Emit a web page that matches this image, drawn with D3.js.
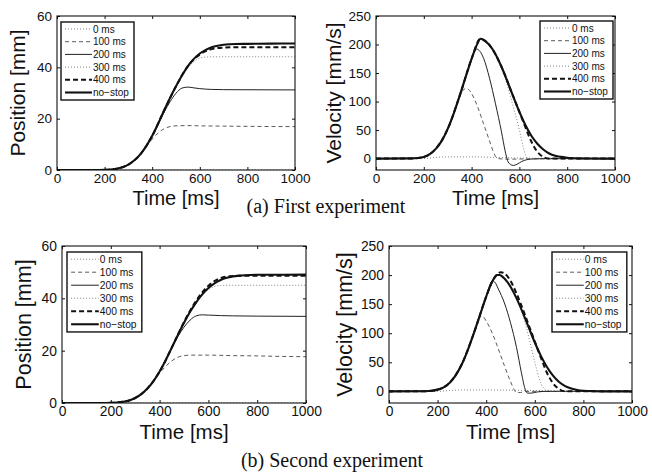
<!DOCTYPE html>
<html>
<head>
<meta charset="utf-8">
<script src="https://cdn.jsdelivr.net/npm/d3@7"></script>
<style>
    body { margin: 0; background: #fff; }
    svg { display: block; }
    .tick text, .lab { font-family: "Liberation Sans", Arial, sans-serif; fill: #111; }
    .caption { font-family: "Liberation Serif", "Times New Roman", serif; font-size: 20px; fill: #111; }
</style>
</head>
<body>
<script>
(function(){
    // legend labels, one per series (same order as the data arrays below)
    var seriesLabels = ["0 ms", "100 ms", "200 ms", "300 ms", "400 ms", "no\u2212stop"];

    var timeTicks = [0, 200, 400, 600, 800, 1000];
    var posTicks = [0, 20, 40, 60];
    var velTicks = [0, 50, 100, 150, 200, 250];

    // ---- (a) first experiment: position [mm], pairs of [time ms, value]
    var pos1_0 = [[0,0],[1000,0]];
    var pos1_100 = [[0,0],[150,0],[200,0.07],[250,0.5],[300,2.1],[350,6.1],[375,9.2],[400,12.0],[425,14.4],[450,16.1],[475,16.9],[500,17.2],[550,17.3],[600,17.2],[700,17.1],[800,17.0],[1000,16.9]];
    var pos1_200 = [[0,0],[150,0],[200,0.07],[250,0.5],[300,2.1],[350,6.1],[400,13.3],[425,17.9],[450,22.5],[475,26.6],[500,29.9],[525,31.9],[550,32.3],[575,32.0],[600,31.7],[650,31.4],[700,31.3],[1000,31.2]];
    var pos1_300 = [[0,0],[150,0],[200,0.07],[250,0.5],[300,2.1],[350,6.1],[400,13.3],[450,23.2],[500,32.6],[525,36.6],[550,39.9],[575,42.2],[600,43.6],[625,44.0],[650,44.1],[1000,44.1]];
    var pos1_400 = [[0,0],[150,0],[200,0.07],[250,0.5],[300,2.1],[350,6.1],[400,13.3],[450,23.2],[500,32.6],[550,40.5],[600,45.0],[625,46.3],[650,47.1],[675,47.5],[700,47.7],[750,47.8],[1000,47.8]];
    var pos1_ns = [[0,0],[150,0],[175,0.02],[200,0.07],[225,0.2],[250,0.5],[275,1.1],[300,2.1],[325,3.8],[350,6.1],[375,9.3],[400,13.3],[425,18.1],[450,23.2],[475,28.1],[500,32.6],[525,36.8],[550,40.5],[575,43.3],[600,45.4],[625,46.8],[650,47.8],[675,48.4],[700,48.8],[725,49.0],[750,49.1],[800,49.15],[900,49.25],[1000,49.3]];

    // ---- (a) first experiment: velocity [mm/s]
    var vel1_0 = [[0,0],[200,0],[250,2],[300,3],[400,3],[500,2],[600,1],[700,0.5],[800,0],[1000,0]];
    var vel1_100 = [[0,0],[150,0.3],[200,3],[250,17],[300,52],[325,79],[340,97],[355,113],[365,120],[375,123],[388,121],[400,114],[425,91],[450,61],[475,31],[490,13],[500,4],[510,0],[550,-1],[650,-0.5],[1000,-0.3]];
    var vel1_200 = [[0,0],[150,0.3],[200,3],[250,17],[300,52],[350,110],[400,175],[413,188],[422,192],[435,188],[450,176],[475,141],[500,96],[525,47],[540,14],[550,-3],[562,-10],[575,-12],[590,-10],[610,-5],[630,-2],[660,-0.5],[700,0],[1000,0]];
    var vel1_300 = [[0,0],[150,0.3],[200,3],[250,17],[300,52],[350,110],[400,175],[437,210],[475,199],[500,183],[525,161],[550,128],[575,90],[600,50],[615,22],[625,7],[635,0],[660,-1],[720,-0.5],[1000,0]];
    var vel1_400 = [[0,0],[150,0.3],[200,3],[250,17],[300,52],[350,110],[400,175],[437,210],[475,199],[525,161],[575,108],[600,82],[625,55],[650,30],[675,12],[700,3],[725,0],[1000,0]];
    var vel1_ns = [[0,0],[150,0.3],[175,1],[200,3],[225,8],[250,17],[275,31],[300,52],[325,79],[350,110],[375,143],[400,175],[425,202],[437,210],[450,208],[475,199],[500,183],[525,161],[550,135],[575,108],[600,82],[625,59],[650,40],[675,26],[700,16],[725,9],[750,5],[775,3],[800,1.5],[850,0.4],[900,0.1],[1000,0]];

    // ---- (b) second experiment: position [mm]
    var pos2_0 = [[0,0],[1000,0]];
    var pos2_100 = [[0,0],[150,0],[200,0.07],[250,0.46],[300,1.91],[350,5.52],[375,8.39],[400,11.4],[425,14.0],[450,16.1],[475,17.5],[500,18.1],[525,18.3],[600,18.3],[700,18.1],[800,18.0],[900,17.8],[1000,17.7]];
    var pos2_200 = [[0,0],[150,0],[200,0.07],[250,0.46],[300,1.91],[350,5.52],[400,12.03],[425,16.35],[450,21.1],[475,25.4],[500,29.0],[525,31.7],[550,33.3],[575,33.7],[600,33.6],[650,33.4],[700,33.3],[800,33.2],[1000,33.1]];
    var pos2_300 = [[0,0],[150,0],[200,0.07],[250,0.46],[300,1.91],[350,5.52],[400,12.03],[450,21.17],[500,30.65],[525,34.84],[550,38.4],[575,41.3],[600,43.3],[625,44.5],[650,44.9],[700,45.0],[1000,45.0]];
    var pos2_400 = [[0,0],[150,0],[200,0.07],[250,0.46],[300,1.91],[350,5.52],[400,12.03],[450,21.17],[475,26.1],[500,30.9],[525,35.3],[550,39.1],[575,42.3],[600,44.8],[625,46.6],[650,47.7],[675,48.3],[700,48.5],[750,48.6],[1000,48.6]];
    var pos2_ns = [[0,0],[150,0],[175,0.02],[200,0.07],[225,0.19],[250,0.46],[275,0.99],[300,1.91],[325,3.39],[350,5.52],[375,8.39],[400,12.03],[425,16.37],[450,21.17],[475,26.04],[500,30.65],[525,34.84],[550,38.49],[575,41.53],[600,43.92],[625,45.71],[650,46.98],[675,47.83],[700,48.36],[725,48.67],[750,48.85],[800,48.99],[1000,49.05]];

    // ---- (b) second experiment: velocity [mm/s]
    var vel2_0 = [[0,0],[200,0],[250,1.5],[300,2.5],[400,2.5],[500,2],[600,1.5],[700,0.5],[800,0],[1000,0]];
    var vel2_100 = [[0,0],[150,0.3],[200,3],[250,15],[300,47],[325,72],[350,101],[365,120],[375,128],[385,129],[400,121],[425,100],[450,73],[475,44],[500,17],[515,3],[525,-2],[540,-2],[560,0],[1000,-0.3]];
    var vel2_200 = [[0,0],[150,0.3],[200,3],[250,15],[300,47],[350,101],[375,132],[400,163],[415,183],[425,190],[435,188],[450,176],[475,152],[500,118],[525,75],[545,32],[560,4],[570,-3],[585,-3],[610,-1],[650,0],[1000,0]];
    var vel2_300 = [[0,0],[150,0.3],[200,3],[250,15],[300,47],[350,101],[400,163],[445,200],[475,194],[500,180],[525,160],[540,146],[560,118],[580,85],[600,50],[620,20],[635,6],[645,2],[670,1],[720,0.5],[800,0],[1000,0]];
    var vel2_400 = [[0,0],[150,0.3],[200,3],[250,15],[300,47],[350,101],[400,163],[425,189],[445,201],[460,205],[475,203],[500,190],[525,168],[550,142],[575,114],[600,86],[625,58],[650,32],[675,14],[700,4],[725,0],[1000,0]];
    var vel2_ns = [[0,0],[150,0.3],[175,1],[200,3],[225,7],[250,15],[275,28],[300,47],[325,72],[350,101],[375,132],[400,163],[425,189],[445,200],[455,200],[475,194],[500,180],[525,160],[550,136],[575,110],[600,84],[625,61],[650,42],[675,27],[700,16],[725,9],[750,5],[775,2.5],[800,1.2],[850,0.3],[900,0],[1000,0]];

    // line style per series
    var styles = [
        {stroke: "#808080", width: 1,   dash: "1,2"},
        {stroke: "#5a5a5a", width: 1,   dash: "4,3"},
        {stroke: "#222",    width: 1,   dash: null},
        {stroke: "#808080", width: 1,   dash: "1,2"},
        {stroke: "#111",    width: 2,   dash: "5,3"},
        {stroke: "#111",    width: 2.1, dash: null}
    ];

    var svg = d3.select("body").append("svg")
        .attr("width", 652)
        .attr("height", 474);

    drawPanel({left: 57, right: 295, top: 16, bottom: 170, k: 1,
        yDomain: [0, 60], yTicks: posTicks, ylabel: "Position [mm]", ylabelX: 25,
        legendX: 61, legendY: 22,
        series: [pos1_0, pos1_100, pos1_200, pos1_300, pos1_400, pos1_ns]});

    drawPanel({left: 376, right: 615, top: 16, bottom: 170, k: 1,
        yDomain: [-20, 250], yTicks: velTicks, ylabel: "Velocity [mm/s]", ylabelX: 341,
        legendX: 540, legendY: 21,
        series: [vel1_0, vel1_100, vel1_200, vel1_300, vel1_400, vel1_ns]});

    drawPanel({left: 62, right: 306, top: 246, bottom: 403, k: 1.025,
        yDomain: [0, 60], yTicks: posTicks, ylabel: "Position [mm]", ylabelX: 31,
        legendX: 67, legendY: 252,
        series: [pos2_0, pos2_100, pos2_200, pos2_300, pos2_400, pos2_ns]});

    drawPanel({left: 389, right: 632, top: 246, bottom: 403, k: 1.025,
        yDomain: [-20, 250], yTicks: velTicks, ylabel: "Velocity [mm/s]", ylabelX: 352,
        legendX: 552, legendY: 252,
        series: [vel2_0, vel2_100, vel2_200, vel2_300, vel2_400, vel2_ns]});

    svg.append("text").attr("class", "caption")
        .attr("x", 326).attr("y", 213)
        .attr("text-anchor", "middle")
        .text("(a) First experiment");

    svg.append("text").attr("class", "caption")
        .attr("x", 332).attr("y", 467)
        .attr("text-anchor", "middle")
        .text("(b) Second experiment");

    function drawPanel(p){
        var x = d3.scaleLinear().domain([0, 1000]).range([p.left, p.right]);
        var y = d3.scaleLinear().domain(p.yDomain).range([p.bottom, p.top]);
        var w = p.right - p.left, h = p.bottom - p.top;
        var clipId = "clip" + p.left + "_" + p.top;

        svg.append("clipPath").attr("id", clipId)
            .append("rect")
            .attr("x", p.left).attr("y", p.top)
            .attr("width", w).attr("height", h);

        // axes, ticks pointing inward on all four sides
        var tickFont = 13.5 * p.k + "px";
        var gx = svg.append("g")
            .attr("transform", "translate(0," + p.bottom + ")")
            .call(d3.axisBottom(x).tickValues(timeTicks).tickSize(-3).tickPadding(3).tickFormat(d3.format("d")));
        var gy = svg.append("g")
            .attr("transform", "translate(" + p.left + ",0)")
            .call(d3.axisLeft(y).tickValues(p.yTicks).tickSize(-3).tickPadding(5).tickFormat(d3.format("d")));
        svg.append("g")
            .attr("transform", "translate(0," + p.top + ")")
            .call(d3.axisTop(x).tickValues(timeTicks).tickSize(-3).tickFormat(""));
        svg.append("g")
            .attr("transform", "translate(" + p.right + ",0)")
            .call(d3.axisRight(y).tickValues(p.yTicks).tickSize(-3).tickFormat(""));

        svg.selectAll(".domain").remove();
        gx.selectAll("text").style("font-size", tickFont);
        gy.selectAll("text").style("font-size", tickFont);
        svg.selectAll(".tick line").attr("stroke", "#111");

        var line = d3.line()
            .x(function(d){ return x(d[0]); })
            .y(function(d){ return y(d[1]); })
            .curve(d3.curveMonotoneX);

        var lines = svg.append("g").attr("clip-path", "url(#" + clipId + ")");
        p.series.forEach(function(s, i){
            lines.append("path")
                .datum(s)
                .attr("d", line)
                .attr("fill", "none")
                .attr("stroke", styles[i].stroke)
                .attr("stroke-width", styles[i].width)
                .attr("stroke-dasharray", styles[i].dash);
        });

        svg.append("rect")
            .attr("x", p.left).attr("y", p.top)
            .attr("width", w).attr("height", h)
            .attr("fill", "none")
            .attr("stroke", "#111")
            .attr("stroke-width", 1.1);

        // axis labels
        svg.append("text").attr("class", "lab")
            .attr("x", (p.left + p.right) / 2)
            .attr("y", p.bottom + 35 * p.k)
            .attr("text-anchor", "middle")
            .style("font-size", 20 * p.k + "px")
            .text("Time [ms]");

        svg.append("text").attr("class", "lab")
            .attr("transform", "translate(" + p.ylabelX + "," + (p.top + h / 2) + ") rotate(-90)")
            .attr("text-anchor", "middle")
            .style("font-size", 21 * p.k + "px")
            .text(p.ylabel);

        // legend
        var lw = 73 * p.k, lh = 78 * p.k, row = 12.7 * p.k;
        var lg = svg.append("g").attr("transform", "translate(" + p.legendX + "," + p.legendY + ")");
        lg.append("rect")
            .attr("width", lw).attr("height", lh)
            .attr("fill", "#fff")
            .attr("stroke", "#111")
            .attr("stroke-width", 1.4);
        seriesLabels.forEach(function(label, i){
            var cy = 7 * p.k + i * row;
            lg.append("line")
                .attr("x1", 4 * p.k).attr("x2", 31 * p.k)
                .attr("y1", cy).attr("y2", cy)
                .attr("stroke", styles[i].stroke)
                .attr("stroke-width", styles[i].width)
                .attr("stroke-dasharray", styles[i].dash);
            lg.append("text").attr("class", "lab")
                .attr("x", 32 * p.k).attr("y", cy + 3.6 * p.k)
                .style("font-size", 10 * p.k + "px")
                .text(label);
        });
    }
})();
</script>
</body>
</html>
